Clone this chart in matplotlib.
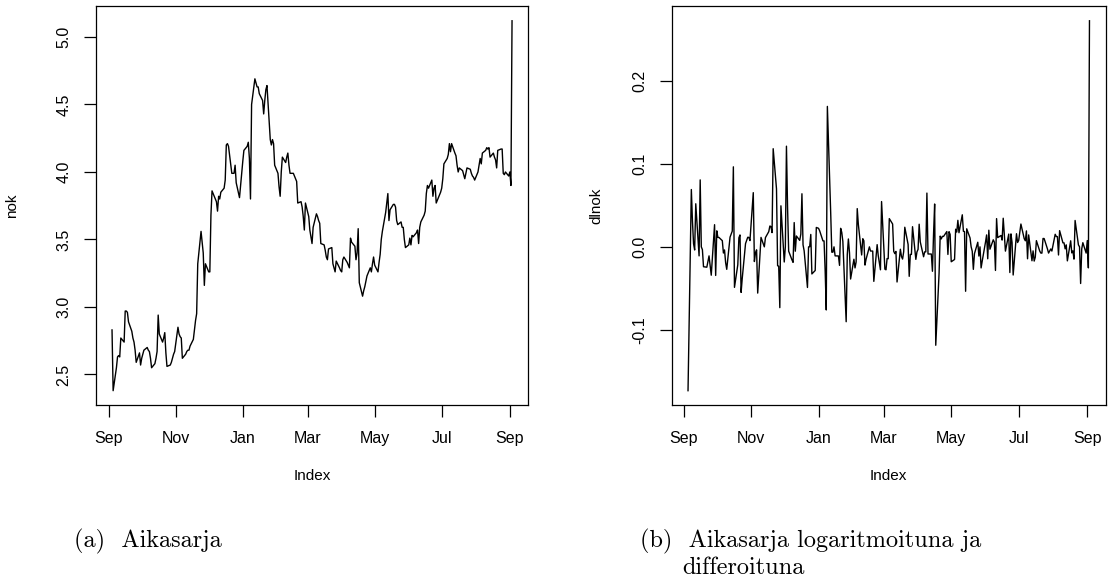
import numpy as np
import pandas as pd
import matplotlib
matplotlib.use('Agg')
import matplotlib.pyplot as plt
import matplotlib.dates as mdates

# daily closing values, one row per month (business days from 4 Sep 2008)
nok = [
    2.83, 2.38, 2.55, 2.63, 2.64, 2.63, 2.77, 2.74, 2.97, 2.97, 2.96, 2.89, 2.82, 2.77, 2.74, 2.68, 2.59, 2.66, 2.57,
    2.62, 2.65, 2.68, 2.70, 2.68, 2.67, 2.62, 2.55, 2.58, 2.62, 2.67, 2.94, 2.80, 2.74, 2.77, 2.81, 2.66, 2.56, 2.57, 2.59, 2.62, 2.65, 2.67,
    2.85, 2.80, 2.78, 2.77, 2.62, 2.65, 2.67, 2.68, 2.68, 2.71, 2.76, 2.83, 2.90, 2.95, 3.32, 3.56, 3.48, 3.40, 3.16, 3.32,
    3.26, 3.26, 3.68, 3.86, 3.84, 3.78, 3.71, 3.82, 3.80, 3.85, 3.88, 3.94, 4.20, 4.21, 4.19, 3.99, 3.99, 3.99, 4.05, 3.92, 3.81, 3.90, 3.99,
    4.08, 4.16, 4.19, 4.22, 4.10, 3.80, 4.50, 4.69, 4.66, 4.63, 4.63, 4.58, 4.53, 4.43, 4.53, 4.61, 4.64, 4.24, 4.20, 4.24, 4.21, 4.05,
    3.99, 3.89, 3.82, 4.00, 4.11, 4.07, 4.11, 4.14, 4.05, 3.99, 3.99, 3.97, 3.95, 3.93, 3.77, 3.78, 3.74, 3.67, 3.57, 3.77,
    3.67, 3.57, 3.52, 3.47, 3.59, 3.69, 3.67, 3.64, 3.62, 3.47, 3.46, 3.42, 3.37, 3.35, 3.43, 3.44, 3.32, 3.29, 3.26, 3.34, 3.29, 3.27,
    3.26, 3.35, 3.37, 3.33, 3.31, 3.29, 3.51, 3.48, 3.45, 3.35, 3.40, 3.58, 3.18, 3.08, 3.12, 3.15, 3.19, 3.23, 3.29, 3.26, 3.32, 3.37,
    3.31, 3.26, 3.33, 3.39, 3.50, 3.56, 3.70, 3.77, 3.84, 3.64, 3.72, 3.76, 3.76, 3.74, 3.64, 3.61, 3.63, 3.59, 3.59, 3.50, 3.44,
    3.46, 3.51, 3.46, 3.53, 3.52, 3.55, 3.57, 3.47, 3.59, 3.63, 3.68, 3.71, 3.84, 3.90, 3.88, 3.94, 3.82, 3.88, 3.90, 3.77, 3.83, 3.85,
    3.88, 3.95, 4.06, 4.10, 4.13, 4.21, 4.15, 4.21, 4.14, 4.12, 4.05, 4.00, 4.03, 4.01, 3.98, 3.95, 3.99, 4.03, 4.02, 3.99, 3.97, 3.96, 3.94,
    4.00, 4.05, 4.10, 4.06, 4.14, 4.16, 4.18, 4.17, 4.18, 4.11, 4.14, 4.11, 4.09, 4.03, 4.16, 4.17, 4.17, 3.99, 3.98, 4.00, 3.97,
    4.00, 3.90, 5.12,
]
dates = pd.bdate_range('2008-09-04', periods=len(nok))

# log returns
dlnok = np.diff(np.log(nok))

nok_ticks = [2.5, 3.0, 3.5, 4.0, 4.5, 5.0]
dlnok_ticks = [-0.1, 0.0, 0.1, 0.2]

plt.rcParams['font.family'] = ['Liberation Sans', 'DejaVu Sans']
plt.rcParams['axes.unicode_minus'] = False

fig = plt.figure(figsize=(11.14, 5.80), dpi=100)
ax1 = fig.add_axes([0.0862, 0.3009, 0.3878, 0.6888])
ax2 = fig.add_axes([0.6032, 0.3009, 0.3892, 0.6888])


def r_plot(ax, x, y, ylabel, yticks, ypad):
    ax.plot(x, y, color='black', lw=1.0)
    ax.margins(x=0.04, y=0.04)
    ax.xaxis.set_major_locator(mdates.MonthLocator(bymonth=[1, 3, 5, 7, 9, 11]))
    ax.xaxis.set_major_formatter(mdates.DateFormatter('%b'))
    ax.set_yticks(yticks)
    ax.set_yticklabels([f'{t:.1f}' for t in yticks], rotation=90, va='center')
    ax.tick_params(direction='out', length=8.5, width=0.9, labelsize=11.5, pad=10)
    ax.tick_params(axis='y', pad=9)
    for s in ax.spines.values():
        s.set_linewidth(0.9)
    ax.set_xlabel('Index', fontsize=11, labelpad=16.5)
    ax.set_ylabel(ylabel, fontsize=11, labelpad=ypad)


r_plot(ax1, dates, nok, 'nok', nok_ticks, 27)
r_plot(ax2, dates[1:], dlnok, 'dlnok', dlnok_ticks, 21)

cap = dict(fontsize=17.5, family='cmr10', va='center', ha='left')
fig.text(74 / 1114, 1 - 541 / 580, '(a)  Aikasarja', **cap)
fig.text(640 / 1114, 1 - 541 / 580, '(b)  Aikasarja logaritmoituna ja', **cap)
fig.text(682 / 1114, 1 - 568 / 580, 'differoituna', **cap)

fig.savefig('out.png', dpi=100)
